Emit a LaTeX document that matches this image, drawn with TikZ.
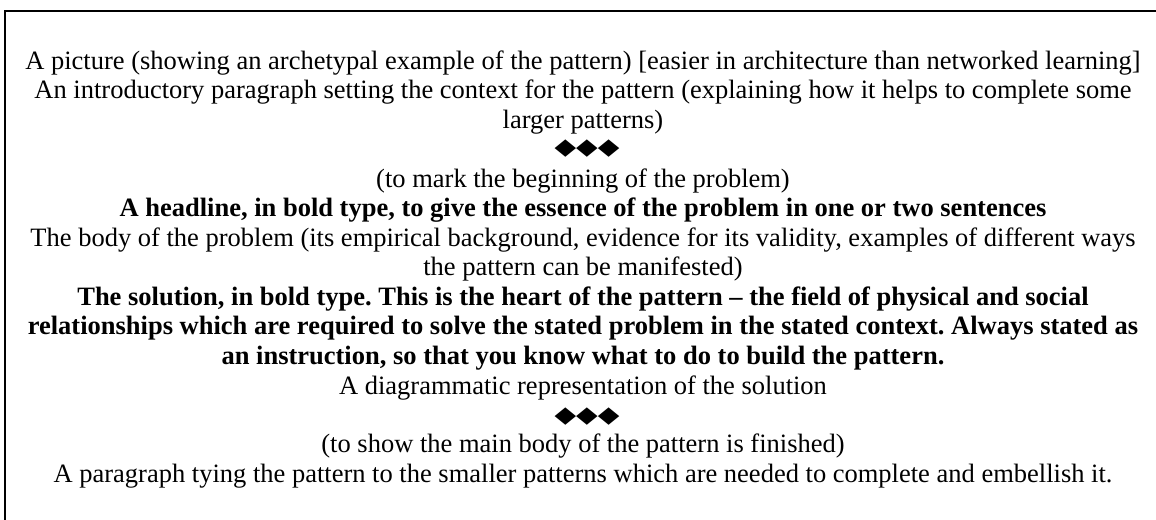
\documentclass[tikz,border=0pt]{standalone}
\usepackage{fontspec}
\setmainfont{Liberation Serif}
\newfontfamily\symfont{DejaVu Sans}
\usepackage{tikz}
\usetikzlibrary{positioning}
\frenchspacing

% three black diamonds used as section marks
\newcommand{\diamondrow}{{\symfont\scalebox{1.06}[0.86]{\char"25C6\char"25C6\char"25C6}}}

\begin{document}
\begin{tikzpicture}[
  x=0.468pt,y=-0.468pt,
  font=\fontsize{12.4}{13.8}\selectfont,
  txt/.style={anchor=base,align=center,inner sep=0pt},
  bld/.style={txt,font=\fontsize{12.4}{13.8}\selectfont\bfseries},
  frame/.style={draw=black,line width=1.2pt}]

\useasboundingbox (0,0) rectangle (1156,519);
\draw[frame] (1160,11) -| (5,523);

% multi-line nodes sit on the baseline of their last line
\node[txt] (pic) at (583,69)
  {A picture (showing an archetypal example of the pattern) [easier in architecture than networked learning]};
\node[txt] (intro) at (583,128)
  {An introductory paragraph setting the context for the pattern (explaining how it helps to complete some\\
   larger patterns)};
\node[txt] (mk1) at (587,154) {\diamondrow};
\node[txt] (beg) at (583,187) {(to mark the beginning of the problem)};
\node[bld] (head) at (583,216.5)
  {A headline, in bold type, to give the essence of the problem in one or two sentences};
\node[txt] (body) at (583,275.5)
  {The body of the problem (its empirical background, evidence for its validity, examples of different ways\\
   the pattern can be manifested)};
\node[bld] (sol) at (583,364)
  {The solution, in bold type. This is the heart of the pattern -- the field of physical and social\\
   relationships which are required to solve the stated problem in the stated context. Always stated as\\
   an instruction, so that you know what to do to build the pattern.};
\node[txt] (diag) at (583,394.5) {A diagrammatic representation of the solution};
\node[txt] (mk2) at (587,422) {\diamondrow};
\node[txt] (fin) at (583,452.5) {(to show the main body of the pattern is finished)};
\node[txt] (tie) at (583,482)
  {A paragraph tying the pattern to the smaller patterns which are needed to complete and embellish it.};
\end{tikzpicture}
\end{document}
